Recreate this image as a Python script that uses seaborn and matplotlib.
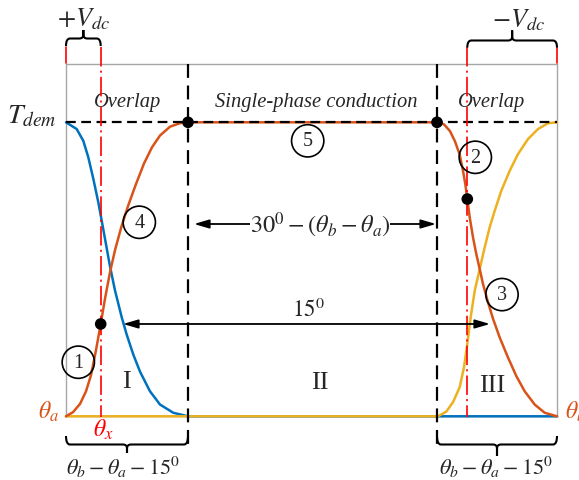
import matplotlib
matplotlib.use("Agg")
import matplotlib.pyplot as plt
from matplotlib.path import Path
from matplotlib.patches import PathPatch
import pandas as pd
import seaborn as sns

# ---- torque profiles (normalised to T_dem) vs. rotor position (axis units) ----
blue_x = [0, 10.7, 17.3, 22.3, 27.3, 32.3, 36, 40, 44, 49, 55.7, 60.7, 67.3, 74,
          84, 94, 107.3, 122, 371, 491]
blue_y = [1.0, 0.977, 0.937, 0.881, 0.808, 0.728, 0.66, 0.585, 0.51, 0.428, 0.337,
          0.278, 0.21, 0.152, 0.085, 0.04, 0.012, 0.0, 0.0, 0.0]

orange_x = [0, 7, 14, 20, 25, 30, 34.7, 39, 44, 49, 55, 62, 70, 78, 86, 94, 104, 114,
            122, 371, 378, 384, 389, 393.7, 397, 399.3, 401.3, 403.7, 407, 410.3,
            413.7, 417, 422, 427, 433.7, 442, 450.3, 458.7, 468.7, 478.7, 491]
orange_y = [0, 0.014, 0.042, 0.085, 0.14, 0.225, 0.314, 0.40, 0.49, 0.565, 0.64,
            0.715, 0.79, 0.86, 0.915, 0.955, 0.985, 0.997, 1.0, 1.0, 0.993, 0.97,
            0.935, 0.89, 0.835, 0.79, 0.739, 0.677, 0.609, 0.552, 0.501, 0.45,
            0.388, 0.332, 0.268, 0.2, 0.137, 0.085, 0.04, 0.012, 0]

yellow_x = [0, 372, 380.3, 387, 393.7, 398, 401.3, 404.7, 408.7, 413.7, 418.7, 423.7,
            428.7, 435.3, 443.7, 452, 462, 472, 482, 491]
yellow_y = [0, 0, 0.016, 0.048, 0.099, 0.167, 0.246, 0.337, 0.427, 0.501, 0.575,
            0.643, 0.699, 0.767, 0.835, 0.892, 0.943, 0.977, 0.997, 1.0]

# commutation points on the incoming/outgoing phase torque
dot_x = [34.7, 122, 371, 401.3]
dot_y = [0.314, 1.0, 1.0, 0.739]

# numbered operating stages
stage_labels = ["1", "4", "5", "2", "3"]
stage_x = [12.3, 73.3, 241.7, 409.3, 436]
stage_y = [0.184, 0.660, 0.937, 0.881, 0.414]

# region boundaries
x_end = 491
overlap1_end = 122
overlap2_start = 371
theta_x_left = 34.7
theta_x_right = 401.3

region_labels = ["I", "II", "III"]
region_x = [60, 254, 426]

BLUE, ORANGE, YELLOW = "#0072BD", "#D95319", "#EDB120"

sns.set_theme(style="white")
plt.rcParams["font.family"] = ["Liberation Serif", "DejaVu Serif"]
plt.rcParams["mathtext.fontset"] = "stix"
plt.rcParams["lines.scale_dashes"] = False

W, H = 579, 481
fig = plt.figure(figsize=(W / 100, H / 100), dpi=100)
X0, YB, YT = 66, 417.3, 65
UNIT = 294.0  # pixels per T_dem
ax = fig.add_axes([X0 / W, (H - YB) / H, x_end / W, (YB - YT) / H])
ytop = (YB - YT) / UNIT
ax.set_xlim(0, x_end)
ax.set_ylim(0, ytop)
ax.set_xticks([])
ax.set_yticks([])
for sp in ax.spines.values():
    sp.set_color("#a6a6a6")
    sp.set_linewidth(1.0)
    sp.set_zorder(1)


def yv(py):
    """vertical pixel row -> torque units"""
    return (YB - py) / UNIT


curves = pd.concat([
    pd.DataFrame({"pos": blue_x, "torque": blue_y, "phase": "a"}),
    pd.DataFrame({"pos": yellow_x, "torque": yellow_y, "phase": "c"}),
    pd.DataFrame({"pos": orange_x, "torque": orange_y, "phase": "b"}),
])
for ph, col in [("a", BLUE), ("c", YELLOW), ("b", ORANGE)]:
    sns.lineplot(data=curves[curves.phase == ph], x="pos", y="torque", color=col,
                 estimator=None, sort=False, lw=1.8, ax=ax, zorder=3)
for ln in ax.lines:
    ln.set_clip_on(False)
    ln.set_solid_joinstyle("round")
ax.set_xlabel("")
ax.set_ylabel("")

# demanded torque level
ax.plot([0, x_end], [1, 1], color="black", lw=1.6, dashes=(7, 4), zorder=3.5,
        clip_on=False)
# overlap / single-phase boundaries
for xb in (overlap1_end, overlap2_start):
    ax.plot([xb, xb], [ytop, yv(446)], color="black", lw=1.6, dashes=(10, 5.5),
            zorder=3.5, clip_on=False)
# theta_x markers
for xr in (theta_x_left, theta_x_right):
    ax.plot([xr, xr], [yv(48), yv(418)], color="#ff0000", lw=1.2,
            dashes=(14, 3, 1.5, 3), zorder=3.5, clip_on=False)
for xr in (0, x_end):
    ax.plot([xr, xr], [yv(48), yv(64)], color="#ff0000", lw=1.2, zorder=3.5,
            clip_on=False)

sns.scatterplot(x=dot_x, y=dot_y, color="black", s=70, edgecolor="none", ax=ax,
                zorder=5, clip_on=False)
sns.scatterplot(x=stage_x, y=stage_y, s=540, facecolor="none", edgecolor="black",
                linewidth=1.2, ax=ax, zorder=5, clip_on=False)
for lab, sx, sy in zip(stage_labels, stage_x, stage_y):
    ax.text(sx, sy, lab, ha="center", va="center", fontsize=14.5, zorder=6)


def brace(x0, x1, yl, yend, ytip, r=4):
    xm = (x0 + x1) / 2
    s = 1 if ytip > yl else -1
    pts = [(x0, yend), (x0, yl), (x0 + r, yl), (xm - r, yl), (xm, yl),
           (xm, yl + s * r), (xm, ytip), (xm, yl + s * r), (xm, yl),
           (xm + r, yl), (x1 - r, yl), (x1, yl), (x1, yend)]
    codes = [Path.MOVETO, Path.CURVE3, Path.CURVE3, Path.LINETO, Path.CURVE3,
             Path.CURVE3, Path.LINETO, Path.LINETO, Path.CURVE3, Path.CURVE3,
             Path.LINETO, Path.CURVE3, Path.CURVE3]
    verts = [(px, yv(py)) for px, py in pts]
    ax.add_patch(PathPatch(Path(verts, codes), fc="none", ec="black", lw=1.5,
                           clip_on=False, zorder=4))


brace(0, theta_x_left, 39.5, 47, 31)
brace(theta_x_right, x_end, 41.5, 48.5, 31.5)
brace(0, overlap1_end, 445.5, 437, 454)
brace(overlap2_start, x_end, 445.5, 437, 457)

ax.text(18, yv(19), r"$+V_{dc}$", ha="center", va="center", fontsize=19)
ax.text(453, yv(20), r"$-V_{dc}$", ha="center", va="center", fontsize=19)
ax.text(-9, 1.0, r"$T_{dem}$", ha="right", va="baseline", fontsize=20)
ax.text(-7, yv(419), r"$\theta_a$", ha="right", va="baseline", fontsize=17,
        color=ORANGE)
ax.text(499, yv(419), r"$\theta_b$", ha="left", va="baseline", fontsize=17,
        color=ORANGE, clip_on=False)
ax.text(37, yv(437), r"$\theta_x$", ha="center", va="baseline", fontsize=17,
        color="#ff0000")

for txt, xc in [("Overlap", 62), ("Single-phase conduction", 250), ("Overlap", 426)]:
    ax.text(xc, yv(107), txt, ha="center", va="baseline", fontsize=14.8,
            style="italic")
for lab, xc, py in zip(region_labels, region_x, [388, 389, 391.7]):
    ax.text(xc, yv(py), lab, ha="center", va="baseline", fontsize=19)

arrow = dict(arrowstyle="<|-|>,head_length=0.75,head_width=0.22", color="black",
             lw=1.3, shrinkA=0, shrinkB=0, mutation_scale=12)
ax.annotate("", xy=(128, yv(225)), xytext=(370, yv(225)), arrowprops=arrow,
            zorder=4)
ax.text(254, yv(225), r"$30^0-(\theta_b-\theta_a)$", ha="center", va="center",
        fontsize=17.5, zorder=5,
        bbox=dict(boxstyle="square,pad=0.0", fc="white", ec="none"))
ax.annotate("", xy=(57, 0.314), xytext=(424, 0.314), arrowprops=arrow, zorder=4)
ax.text(242, yv(310), r"$15^0$", ha="center", va="center", fontsize=16.5)

ax.text(57, yv(467), r"$\theta_b-\theta_a-15^0$", ha="center", va="center",
        fontsize=16, zorder=5)
ax.text(430, yv(467), r"$\theta_b-\theta_a-15^0$", ha="center", va="center",
        fontsize=16, zorder=5)

fig.savefig("out.png", dpi=100, facecolor="white")
